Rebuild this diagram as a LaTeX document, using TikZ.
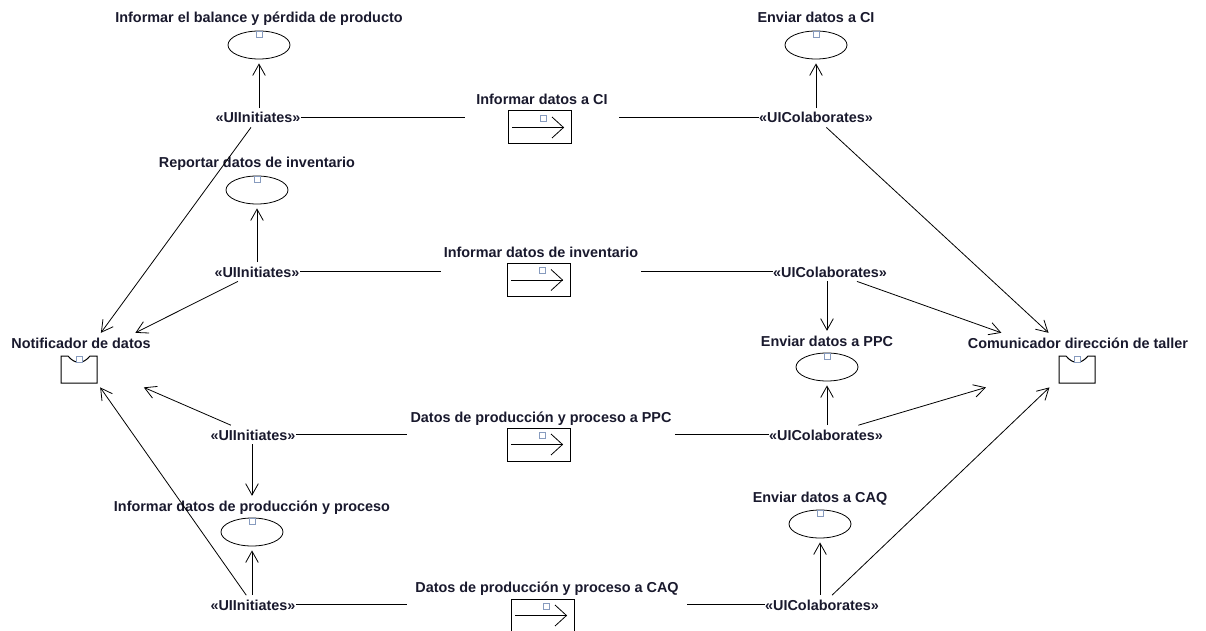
\documentclass[tikz,border=0pt]{standalone}
\usepackage{fontspec}
\newfontfamily\diafont{Liberation Sans}
\usepackage{tikz}
\usetikzlibrary{arrows.meta,positioning,fit,calc}

\definecolor{handlecol}{RGB}{135,155,190}
\definecolor{txtcol}{RGB}{25,25,45}

\tikzset{
	lbl/.style={font=\diafont\bfseries\fontsize{10.8}{12}\selectfont, text=txtcol, inner sep=0pt, text height=7.8pt, text depth=2.2pt, anchor=base},
	stereo/.style={lbl, inner ysep=3pt, text depth=0pt},
	grp/.style={inner sep=3pt},
	handle/.style={draw=handlecol, fill=white, line width=0.6pt, minimum size=4.5pt, inner sep=0pt},
	flow/.style={-{Straight Barb[length=8.5pt,width=9.5pt]}},
	% use case: ellipse with its handle
	usecase/.pic={
		\draw (0,0) ellipse [x radius=31, y radius=14];
		\node[handle] at (0,-10.5) {};
		\coordinate (-nw) at (-31,-14);
		\coordinate (-se) at (31,14);
	},
	% message box with arrow
	msgicon/.pic={
		\draw[line width=0.75pt] (-31.5,-16.5) rectangle (31.5,16.5);
		\draw (-28,0) -- (23.5,0);
		\draw (12,-10.5) -- (23.5,0) -- (12,10.5);
		\node[handle] at (3,-9.5) {};
		\coordinate (-nw) at (-31.5,-16.5);
		\coordinate (-se) at (31.5,16.5);
	},
	% user interface (boundary) icon
	boundary/.pic={
		\draw[line width=0.75pt] (-18,-13.5) -- (-11,-13.5) .. controls (-4,-5) and (4,-5) .. (11,-13.5) -- (18,-13.5) -- (18,13.5) -- (-18,13.5) -- cycle;
		\node[handle] at (0,-10) {};
		\coordinate (-nw) at (-18,-13.5);
		\coordinate (-se) at (18,13.5);
	},
}

\begin{document}
\begin{tikzpicture}[x=0.75pt,y=-0.75pt,line width=0.6pt]
	\useasboundingbox (0,0) rectangle (1206,631);

	% use cases
	\node (lu1) at (259,23)[lbl] {Informar el balance y pérdida de producto};
	\pic (u1) at (259,45) {usecase};
	\node[grp, fit=(lu1)(u1-nw)(u1-se)] (a1) {};

	\node (lu2) at (816,23)[lbl] {Enviar datos a CI};
	\pic (u2) at (816,45) {usecase};
	\node[grp, fit=(lu2)(u2-nw)(u2-se)] (a2) {};

	\node (lu3) at (257,168)[lbl] {Reportar datos de inventario};
	\pic (u3) at (257,190) {usecase};
	\node[grp, fit=(lu3)(u3-nw)(u3-se)] (a3) {};

	\node (lu4) at (827,346)[lbl] {Enviar datos a PPC};
	\pic (u4) at (827,367) {usecase};
	\node[grp, fit=(lu4)(u4-nw)(u4-se)] (a4) {};

	\node (lu5) at (252,511)[lbl] {Informar datos de producción y proceso};
	\pic (u5) at (252,532) {usecase};
	\node[grp, fit=(lu5)(u5-nw)(u5-se)] (a5) {};

	\node (lu6) at (820,502)[lbl] {Enviar datos a CAQ};
	\pic (u6) at (820,524) {usecase};
	\node[grp, fit=(lu6)(u6-nw)(u6-se)] (a6) {};

	% interfaces
	\node (lnot) at (81,348)[lbl] {Notificador de datos};
	\pic (bnot) at (79,369.5) {boundary};
	\node[grp, fit=(lnot)(bnot-nw)(bnot-se)] (notif) {};

	\node (lcom) at (1078,348)[lbl] {Comunicador dirección de taller};
	\pic (bcom) at (1077,369.5) {boundary};
	\node[grp, fit=(lcom)(bcom-nw)(bcom-se)] (comdir) {};

	% messages
	\node (lm1) at (542,105)[lbl] {Informar datos a CI};
	\pic (mb1) at (540,127.5) {msgicon};
	\node[fit=(lm1)(mb1-nw)(mb1-se), inner xsep=8pt, inner ysep=0pt] (m1) {};

	\node (lm2) at (541,257)[lbl] {Informar datos de inventario};
	\pic (mb2) at (539,280) {msgicon};
	\node[fit=(lm2)(mb2-nw)(mb2-se), inner xsep=1.5pt, inner ysep=0pt] (m2) {};

	\node (lm3) at (541,422)[lbl] {Datos de producción y proceso a PPC};
	\pic (mb3) at (539,444.5) {msgicon};
	\node[fit=(lm3)(mb3-nw)(mb3-se), inner xsep=2pt, inner ysep=0pt] (m3) {};

	\node (lm4) at (547,592)[lbl] {Datos de producción y proceso a CAQ};
	\pic (mb4) at (543,615.5) {msgicon};
	\node[fit=(lm4)(mb4-nw)(mb4-se), inner xsep=6pt, inner ysep=0pt] (m4) {};

	% stereotypes
	\node (ini1) at (258,123)[stereo] {«UIInitiates»};
	\node (col1) at (816,123)[stereo] {«UIColaborates»};
	\node (ini2) at (257,277)[stereo] {«UIInitiates»};
	\node (col2) at (830,277)[stereo] {«UIColaborates»};
	\node (ini3) at (253,440)[stereo] {«UIInitiates»};
	\node (col3) at (826,440)[stereo] {«UIColaborates»};
	\node (ini4) at (253,610)[stereo] {«UIInitiates»};
	\node (col4) at (822,610)[stereo] {«UIColaborates»};

	% stereotype -> use case
	\draw[flow] (ini1.north -| a1) -- (a1);
	\draw[flow] (col1.north -| a2) -- (a2);
	\draw[flow] (ini2.north -| a3) -- (a3);
	\draw[flow] (col2.south -| a4) -- (a4);
	\draw[flow] (ini3.south -| a5) -- (a5);
	\draw[flow] (col3.north -| a4) -- (a4);
	\draw[flow] (ini4.north -| a5) -- (a5);
	\draw[flow] (col4.north -| a6) -- (a6);

	% stereotype -> interface
	\draw[flow] (ini1) -- (notif);
	\draw[flow] (ini2) -- (notif);
	\draw[flow] (ini3) -- (notif);
	\draw[flow] (ini4) -- (notif);
	\draw[flow] (col1) -- (comdir);
	\draw[flow] (col2) -- (comdir);
	\draw[flow] (col3) -- (comdir);
	\draw[flow] (col4) -- (comdir);

	% message links
	\draw (ini1.east) -- (ini1.east -| m1.west);
	\draw (m1.east |- col1.west) -- (col1.west);
	\draw (ini2.east) -- (ini2.east -| m2.west);
	\draw (m2.east |- col2.west) -- (col2.west);
	\draw (ini3.east) -- (ini3.east -| m3.west);
	\draw (m3.east |- col3.west) -- (col3.west);
	\draw (ini4.east) -- (ini4.east -| m4.west);
	\draw (m4.east |- col4.west) -- (col4.west);
\end{tikzpicture}
\end{document}
